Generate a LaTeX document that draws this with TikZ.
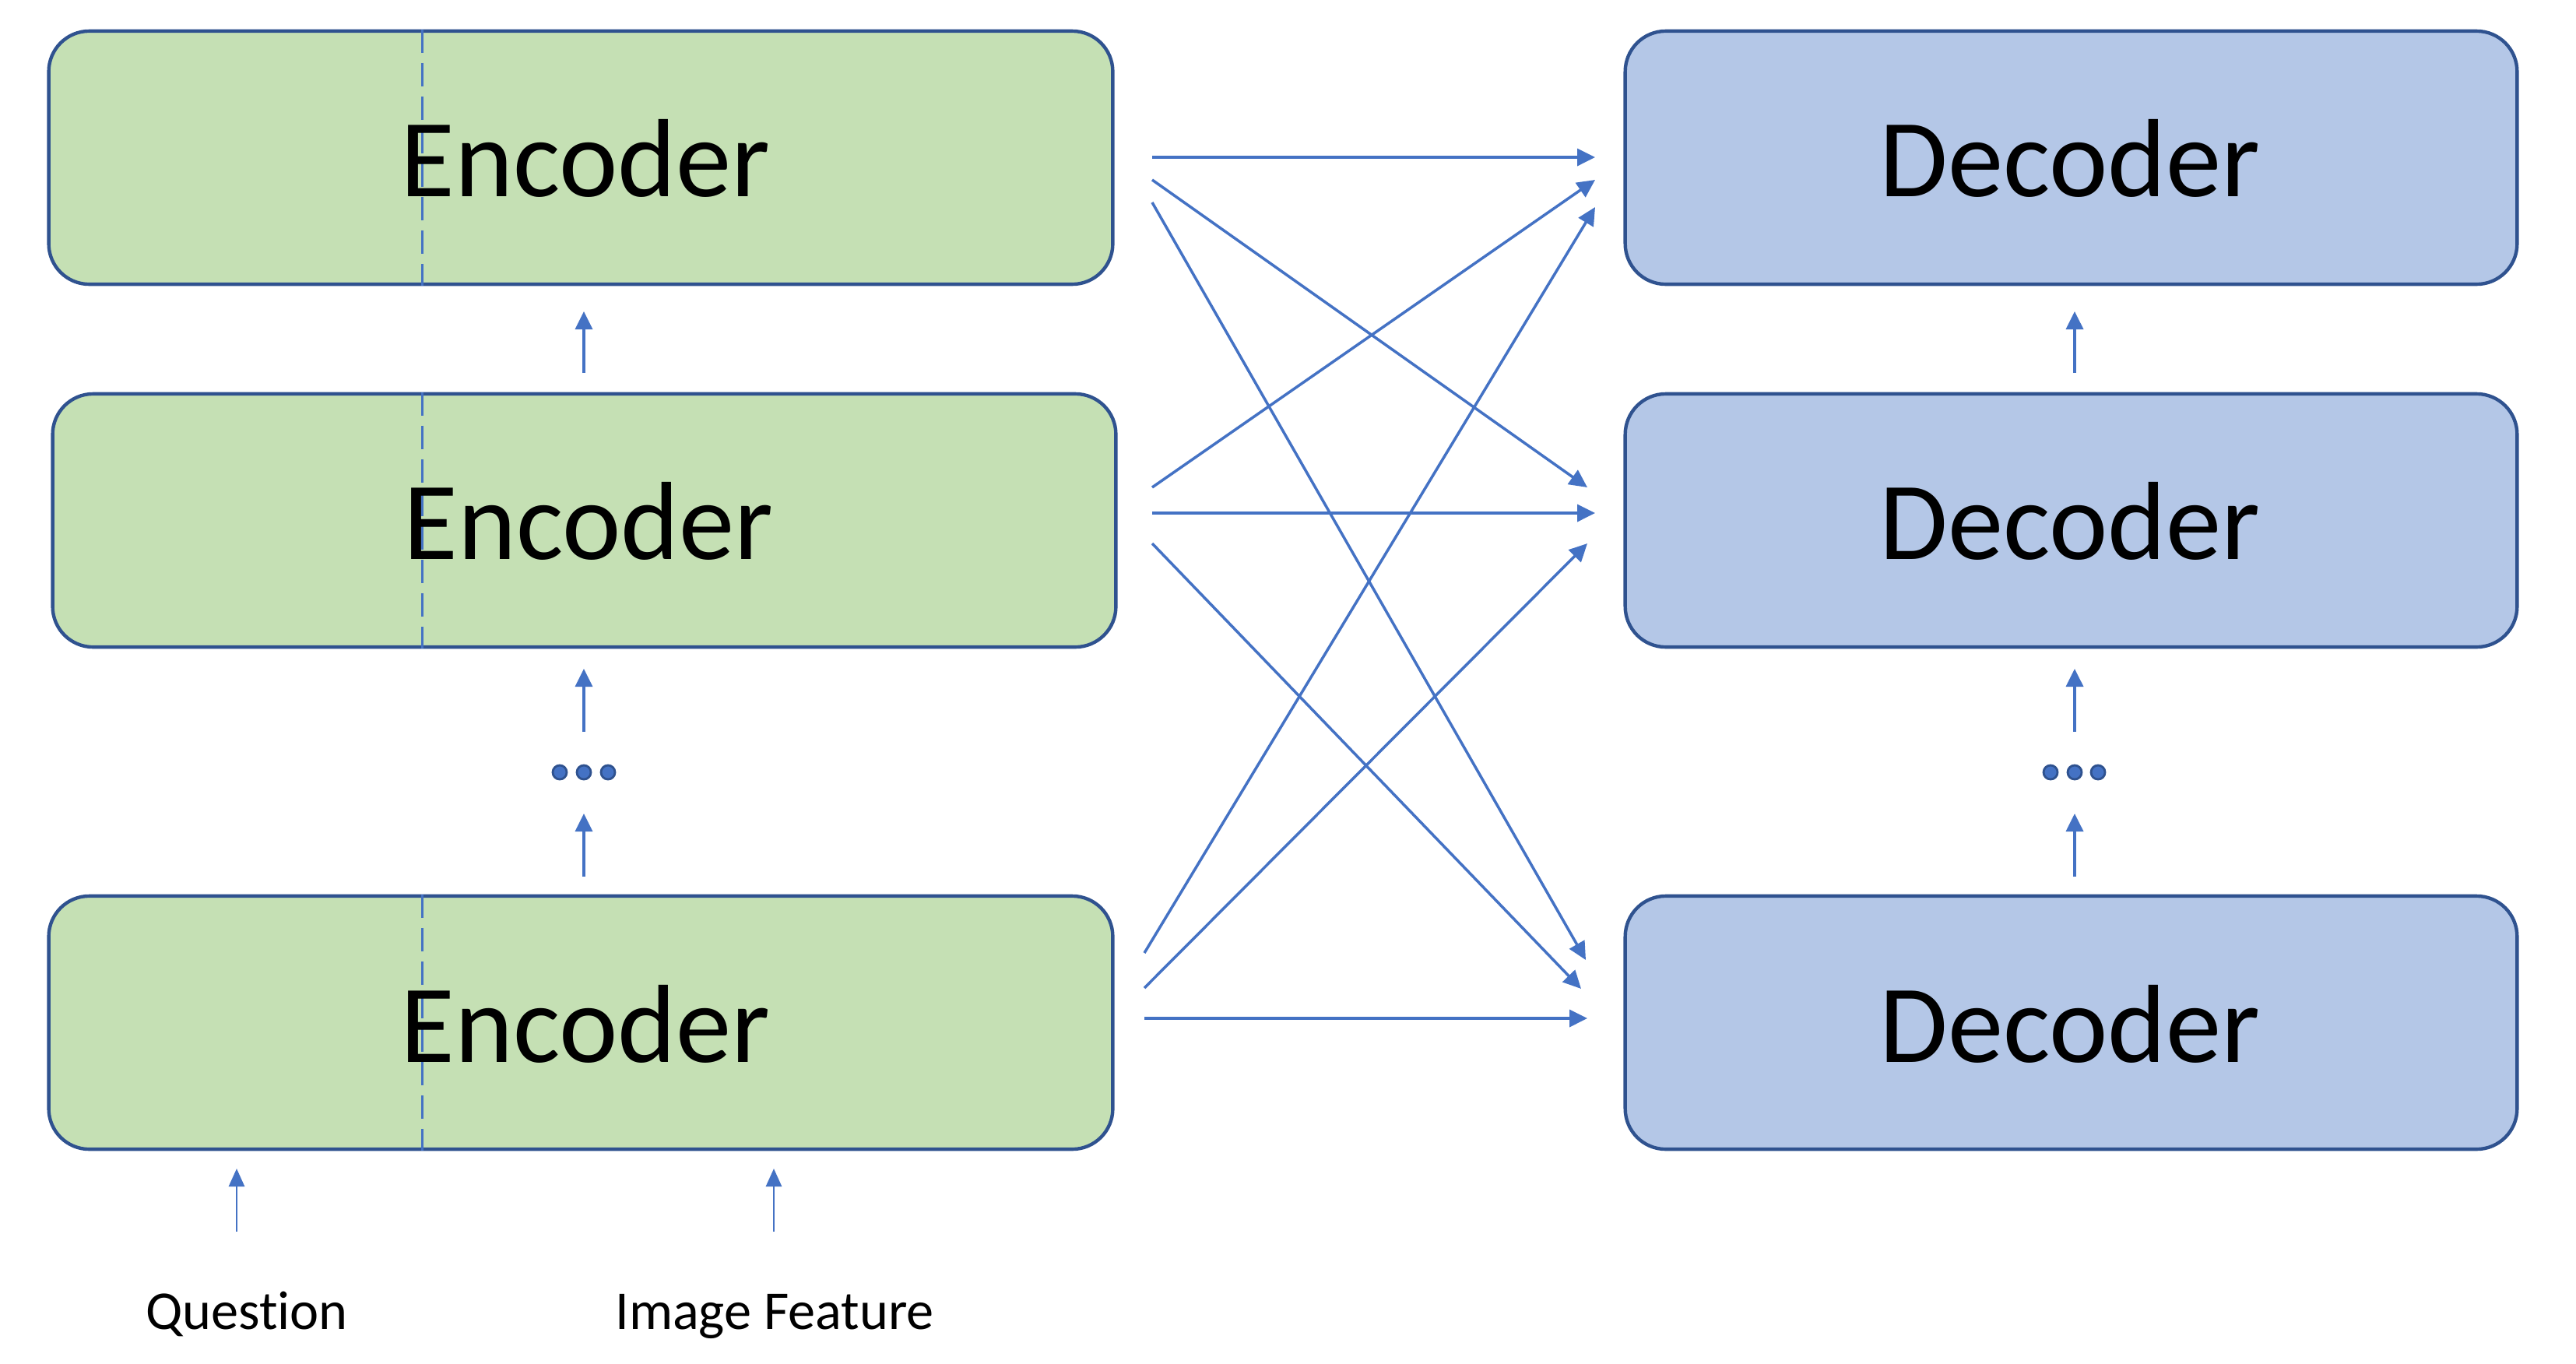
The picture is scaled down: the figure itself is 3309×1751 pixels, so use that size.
\documentclass[tikz,border=0pt]{standalone}
\usepackage{fontspec}
\setmainfont{Carlito}[Ligatures=NoCommon]
\usetikzlibrary{arrows.meta,calc}
\definecolor{encfill}{HTML}{C5E0B4}
\definecolor{decfill}{HTML}{B4C7E7}
\definecolor{bord}{HTML}{2F528F}
\definecolor{arrc}{HTML}{4472C4}
\begin{document}
\begin{tikzpicture}[x=0.01cm, y=-0.01cm,
  box/.style={draw=bord, line width=1.25pt, rounded corners=0.52cm, minimum height=3.25cm, inner sep=0pt},
  encbox/.style={box, fill=encfill, minimum width=13.66cm},
  decbox/.style={box, fill=decfill, minimum width=11.45cm},
  bigtxt/.style={anchor=base, inner sep=0pt, font=\fontsize{40.6}{46}\selectfont},
  smalltxt/.style={anchor=base, inner sep=0pt, font=\fontsize{20}{24}\selectfont},
  arr/.style={draw=arrc, line width=1.0pt, -{Triangle[length=0.23cm,width=0.22cm]}},
  inarr/.style={draw=arrc, line width=0.8pt, -{Triangle[length=0.23cm,width=0.2cm]}},
  sep/.style={draw=arrc, line width=0.9pt, dash pattern=on 0.3cm off 0.13cm},
  dot/.style={circle, fill=arrc, draw=bord, line width=0.8pt, minimum size=0.18cm, inner sep=0pt}
]
\useasboundingbox (0,0) rectangle (3309,1751);

% boxes
\node[encbox] (e1) at (746,202.5) {};
\node[encbox, minimum width=13.65cm] (e2) at (750.5,668.5) {};
\node[encbox] (e3) at (746,1313.5) {};
\node[decbox] (d1) at (2660.5,202.5) {};
\node[decbox] (d2) at (2660.5,668.5) {};
\node[decbox] (d3) at (2660.5,1313.5) {};

% dashed separators
\draw[sep] ([xshift=4.82cm]e1.north west) -- ([xshift=4.82cm]e1.south west);
\draw[sep] ([xshift=4.77cm]e2.north west) -- ([xshift=4.77cm]e2.south west);
\draw[sep] ([xshift=4.82cm]e3.north west) -- ([xshift=4.82cm]e3.south west);

% texts
\node[bigtxt] (e1t) at (752,252) {Encoder};
\node[bigtxt] (e2t) at (756,718) {Encoder};
\node[bigtxt] (e3t) at (752,1364) {Encoder};
\node[bigtxt] (d1t) at (2659,252) {Decoder};
\node[bigtxt] (d2t) at (2659,718) {Decoder};
\node[bigtxt] (d3t) at (2659,1364) {Decoder};
\node[smalltxt] (q) at (317,1707) {Question};
\node[smalltxt] (img) at (995,1707) {Image Feature};

% dots
\node[dot] (ed1) at (719,992) {};
\node[dot] (ed2) at (750,992) {};
\node[dot] (ed3) at (781,992) {};
\node[dot] (dd1) at (2634,992) {};
\node[dot] (dd2) at (2665,992) {};
\node[dot] (dd3) at (2695,992) {};

% vertical arrows (encoder side)
\coordinate (ea1s) at (750,479); \coordinate (ea1t) at (750,400);
\coordinate (ea2s) at (750,940); \coordinate (ea2t) at (750,859);
\coordinate (ea3s) at (750,1126); \coordinate (ea3t) at (750,1045);
\draw[arr] (ea1s) -- (ea1t);
\draw[arr] (ea2s) -- (ea2t);
\draw[arr] (ea3s) -- (ea3t);
% vertical arrows (decoder side)
\coordinate (da1s) at (2665,479); \coordinate (da1t) at (2665,400);
\coordinate (da2s) at (2665,940); \coordinate (da2t) at (2665,859);
\coordinate (da3s) at (2665,1126); \coordinate (da3t) at (2665,1045);
\draw[arr] (da1s) -- (da1t);
\draw[arr] (da2s) -- (da2t);
\draw[arr] (da3s) -- (da3t);

% input arrows
\coordinate (qs) at (304,1582); \coordinate (qt) at (304,1501);
\coordinate (is) at (994,1582); \coordinate (it) at (994,1501);
\draw[inarr] (qs) -- (qt);
\draw[inarr] (is) -- (it);

% cross connections
\coordinate (s1) at (1480,202);  \coordinate (t1) at (2049,202);
\coordinate (s2) at (1480,231);  \coordinate (t2) at (2039,626);
\coordinate (s3) at (1480,260);  \coordinate (t3) at (2037,1233);
\coordinate (s4) at (1480,626);  \coordinate (t4) at (2049,231);
\coordinate (s5) at (1480,659);  \coordinate (t5) at (2049,659);
\coordinate (s6) at (1480,698);  \coordinate (t6) at (2031,1270);
\coordinate (s7) at (1470,1224); \coordinate (t7) at (2049,266);
\coordinate (s8) at (1470,1269); \coordinate (t8) at (2039,698);
\coordinate (s9) at (1470,1308); \coordinate (t9) at (2039,1308);
\foreach \i in {1,...,9} { \draw[arr] (s\i) -- (t\i); }
\end{tikzpicture}
\end{document}
